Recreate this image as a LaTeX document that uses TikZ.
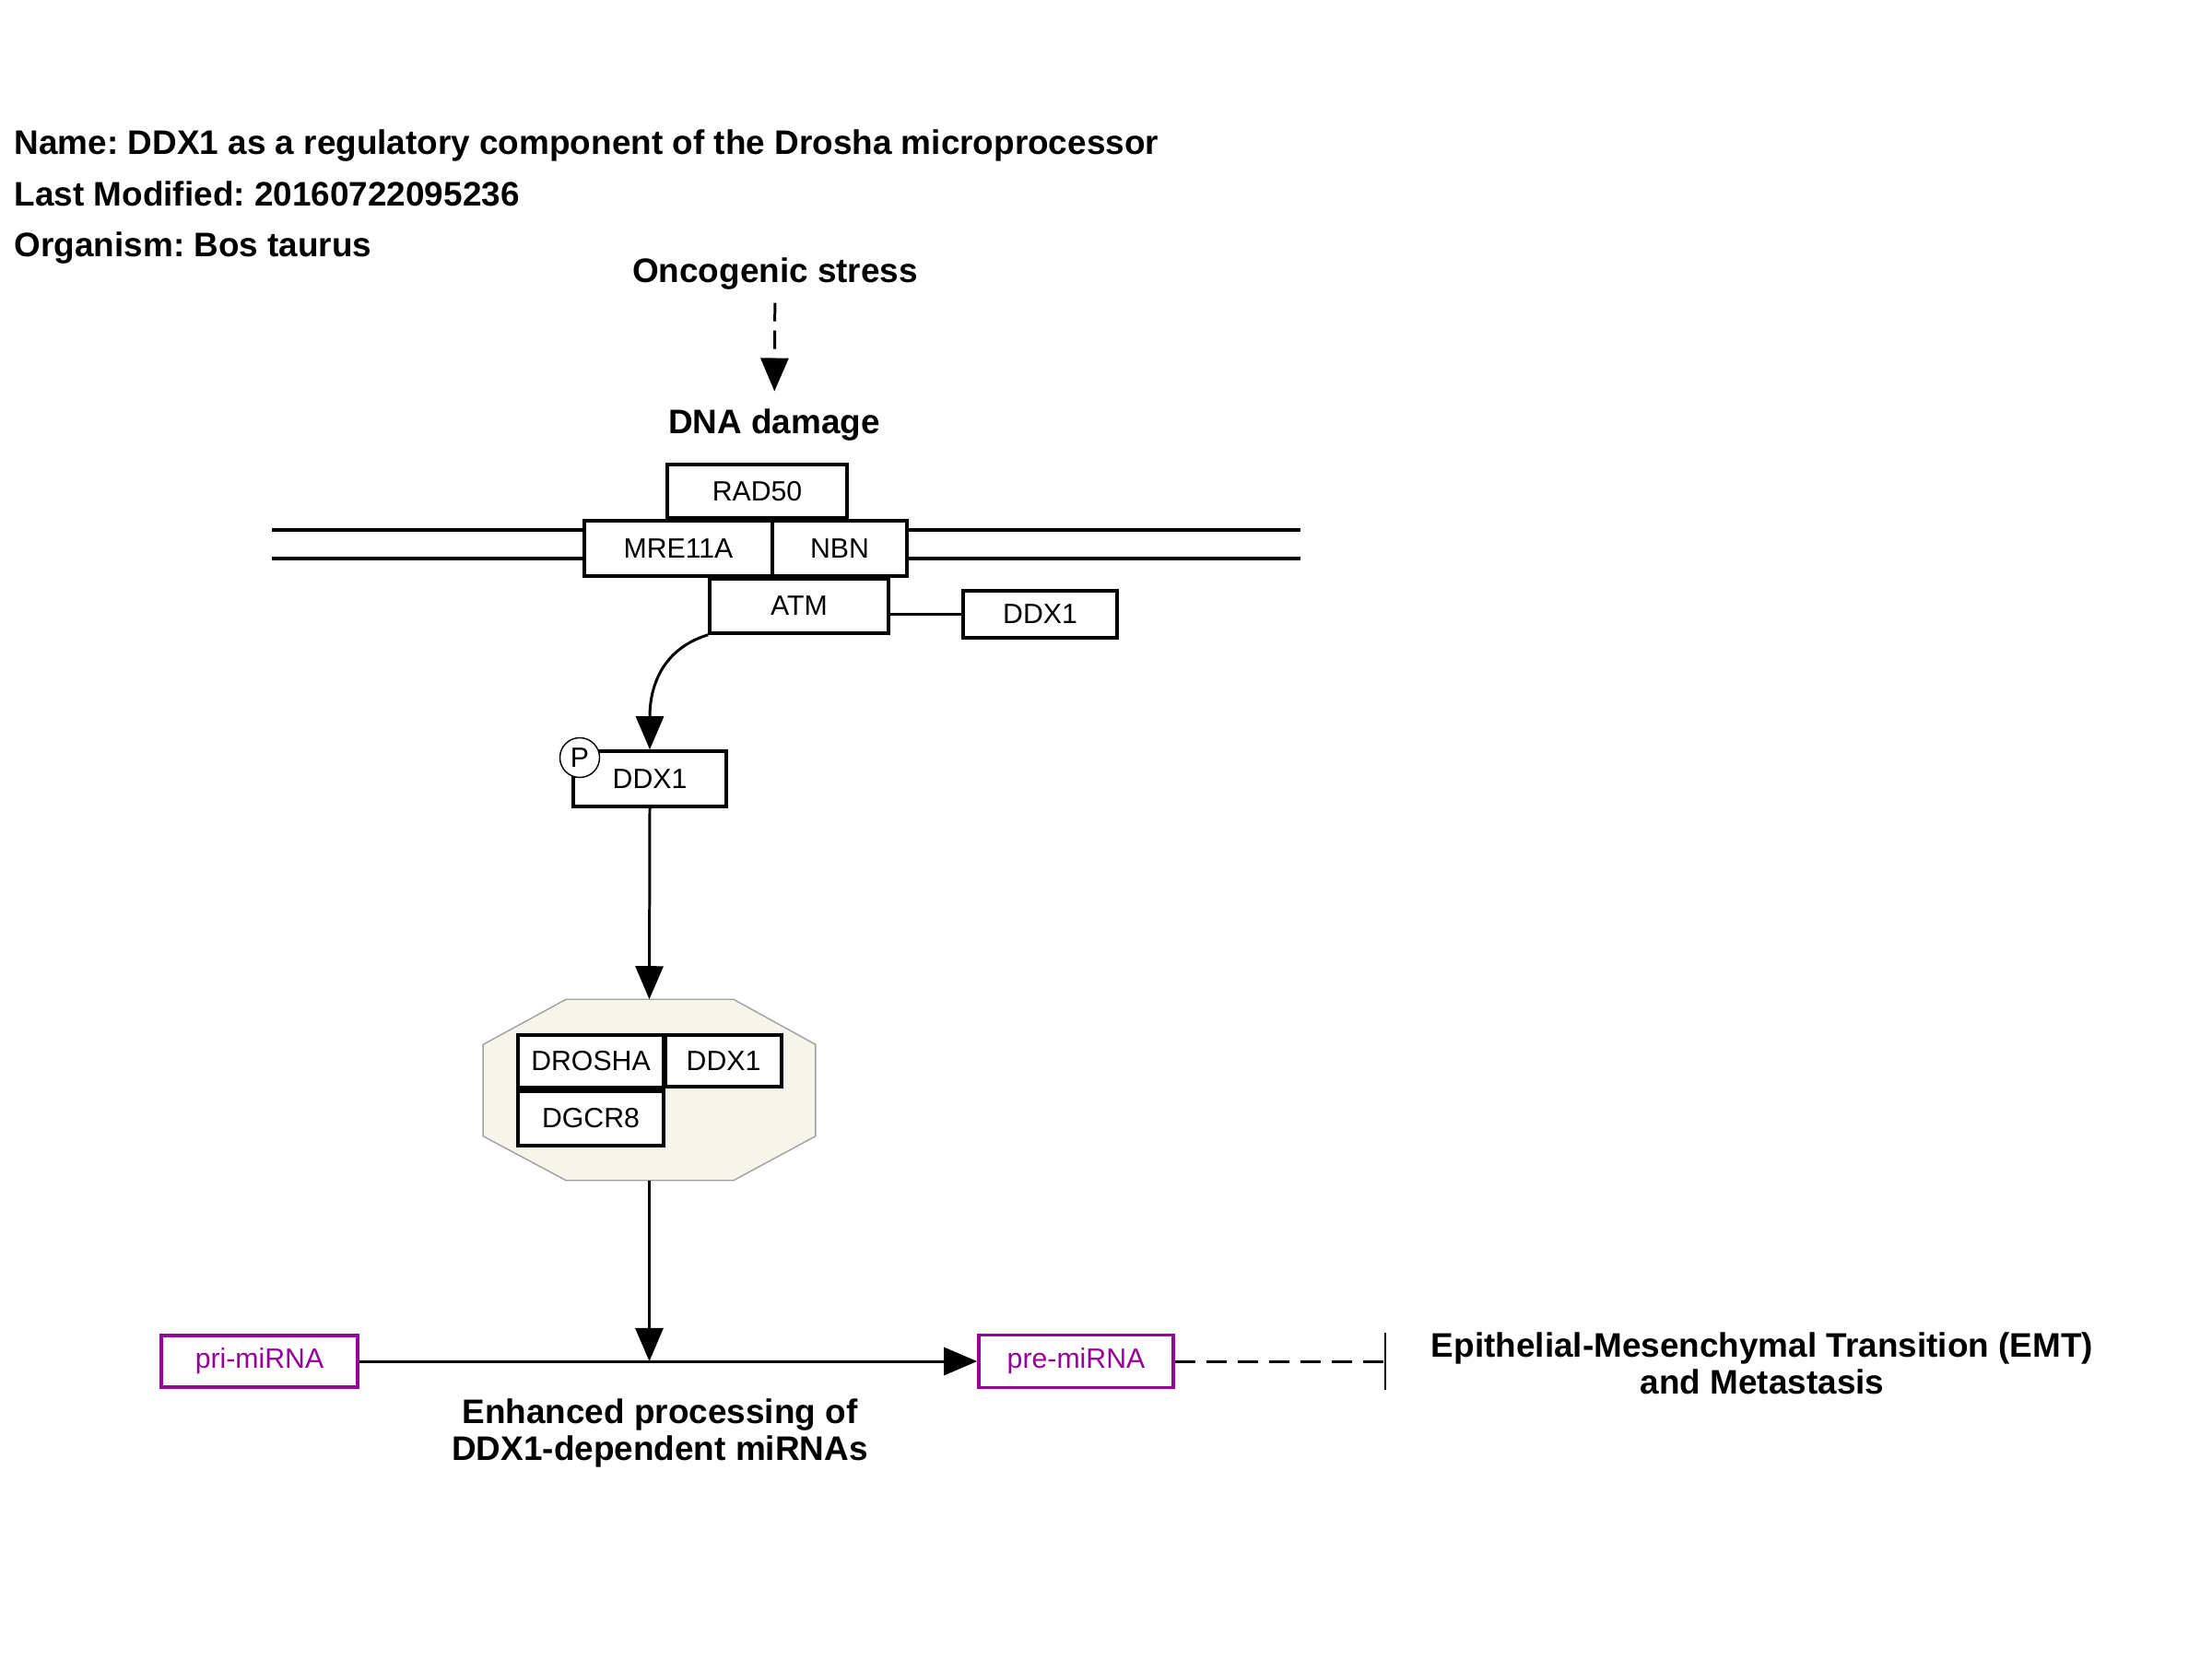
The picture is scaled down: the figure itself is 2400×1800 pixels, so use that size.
\documentclass[tikz,border=0pt]{standalone}
\usepackage{fontspec}
\setmainfont{Liberation Sans}
\usetikzlibrary{arrows.meta,calc}
\definecolor{rnapurple}{HTML}{990099}
\definecolor{cplxfill}{HTML}{F6F5EC}
\definecolor{cplxdraw}{HTML}{A0A0A0}
\frenchspacing
\begin{document}
\begin{tikzpicture}[x=0.01cm,y=-0.01cm,
  gene/.style={draw, line width=1pt, fill=white, inner sep=0pt, font=\fontsize{8.6}{10}\selectfont},
  rna/.style={gene, draw=rnapurple, text=rnapurple},
  lbl/.style={font=\fontsize{10.5}{11.4}\selectfont\bfseries, inner sep=0pt},
  arr/.style={line width=0.85pt, -{Triangle[length=0.36cm,width=0.30cm]}},
  dnaline/.style={line width=1.15pt},
]
\fill[white] (0,0) rectangle (2400,1800);
\useasboundingbox (0,0) rectangle (2400,1800);

% title
\node[lbl, anchor=base west] (title1) at (15,168) {Name: DDX1 as a regulatory component of the Drosha microprocessor};
\node[lbl, anchor=base west] (title2) at (15,223) {Last Modified: 20160722095236};
\node[lbl, anchor=base west] (title3) at (15,278) {Organism: Bos taurus};

% labels
\node[lbl, anchor=base] (onco) at (841,307) {Oncogenic stress};
\node[lbl, anchor=base] (dna) at (840,470) {DNA damage};
\draw[arr, dash pattern=on 0.2cm off 0.1cm, shorten <=0.13cm, shorten >=0.18cm] (onco) -- (dna);

% DNA double line
\draw[dnaline] (295,575) -- (1411,575);
\draw[dnaline] (295,606) -- (1411,606);

% MRN complex + ATM
\node[gene, minimum width=1.95cm, minimum height=0.58cm] (rad50) at (821.5,533) {RAD50};
\node[gene, minimum width=2.04cm, minimum height=0.60cm] (mre11a) at (736,595) {MRE11A};
\node[gene, minimum width=1.46cm, minimum height=0.60cm] (nbn) at (911,595) {NBN};
\node[gene, minimum width=1.94cm, minimum height=0.59cm] (atm) at (867,657.5) {ATM};
\node[gene, minimum width=1.67cm, minimum height=0.51cm] (ddx1r) at (1128.5,666.5) {DDX1};
\draw[line width=0.6pt] (ddx1r.west) -- (ddx1r.west -| atm.east);

% phosphorylated DDX1
\node[gene, minimum width=1.66cm, minimum height=0.60cm] (pddx1) at (705,845) {DDX1};
\node[circle, draw, line width=0.4pt, fill=white, minimum size=0.43cm, inner sep=0pt, font=\fontsize{8.6}{10}\selectfont] (pmark) at (629,822) {P};
\draw[arr] (atm.south west) .. controls (722,703) and (705,740) .. (pddx1.north);

% microprocessor complex
\node[minimum width=3.59cm, minimum height=1.95cm, inner sep=0pt] (complex) at (704.5,1182.5) {};
\draw[fill=cplxfill, draw=cplxdraw, line width=0.4pt]
  ($(complex.north west)+(90,0)$) -- ($(complex.north east)+(-89,0)$) --
  ($(complex.north east)+(0,49)$) -- ($(complex.south east)+(0,-48)$) --
  ($(complex.south east)+(-89,0)$) -- ($(complex.south west)+(90,0)$) --
  ($(complex.south west)+(0,-48)$) -- ($(complex.north west)+(0,49)$) -- cycle;
\node[gene, minimum width=1.58cm, minimum height=0.57cm] (drosha) at (641,1151.5) {DROSHA};
\node[gene, minimum width=1.26cm, minimum height=0.56cm] (ddx1c) at (785,1151) {DDX1};
\node[gene, minimum width=1.58cm, minimum height=0.59cm] (dgcr8) at (641,1213.5) {DGCR8};
\draw[arr] (pddx1.south) -- (complex.north);

% miRNA processing
\node[rna, minimum width=2.13cm, minimum height=0.56cm] (pri) at (281.5,1477) {pri-miRNA};
\node[rna, minimum width=2.11cm, minimum height=0.57cm] (pre) at (1167.5,1477) {pre-miRNA};
\draw[arr] (pri.east) -- (pre.west);
\coordinate (junc) at (complex.south |- pri.east);
\draw[arr] (complex.south) -- (junc);
\coordinate (tbar) at (1504,1477);
\draw[line width=0.85pt, dash pattern=on 0.22cm off 0.12cm, -{Bar[width=0.61cm,line width=0.6pt]}] (pre.east) -- (tbar);

\node[lbl, align=center] (enh) at (716,1555) {Enhanced processing of\\DDX1-dependent miRNAs};
\node[lbl, align=center] (emt) at (1912,1479) {Epithelial-Mesenchymal Transition (EMT)\\and Metastasis};
\end{tikzpicture}
\end{document}
